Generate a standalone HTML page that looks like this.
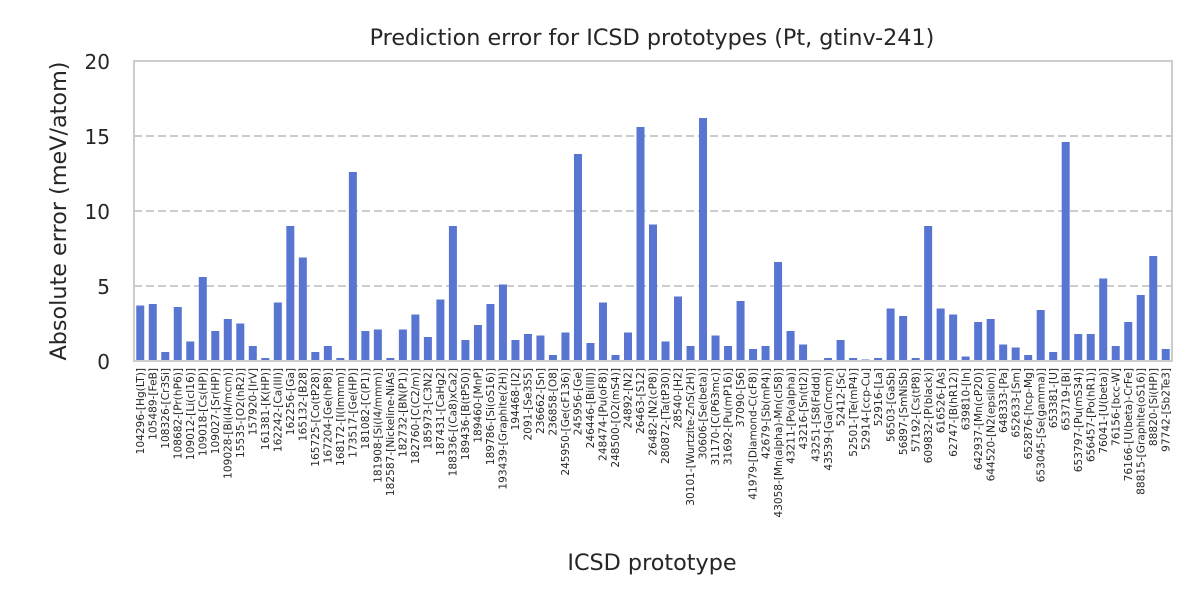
<!DOCTYPE html>
<html><head><meta charset="utf-8"><style>
html,body{margin:0;padding:0;background:#fff;}
svg{display:block;font-family:"DejaVu Sans","Liberation Sans",sans-serif;}
</style></head><body>
<svg id="chart" width="1200" height="600" viewBox="0 0 1200 600">
<text x="652" y="45" font-size="22.3" text-anchor="middle" fill="#262626">Prediction error for ICSD prototypes (Pt, gtinv-241)</text>
<text transform="translate(66,211) rotate(-90)" font-size="22.3" text-anchor="middle" fill="#262626">Absolute error (meV/atom)</text>
<text x="652" y="570" font-size="22.3" text-anchor="middle" fill="#262626">ICSD prototype</text>
<g id="grid"></g>
<g id="bars"></g>
<g id="yticks"></g>
<g id="xticks"></g>
<rect x="134" y="61" width="1038" height="300" fill="none" stroke="#cccccc" stroke-width="2"/>
</svg>
<script>
const categories = ["104296-[Hg(LT)]","105489-[FeB]","108326-[Cr3Si]","108682-[Pr(hP6)]","109012-[Li(cI16)]","109018-[Cs(HP)]","109027-[Sr(HP)]","109028-[Bi(I4/mcm)]","15535-[O2(hR2)]","157920-[IrV]","161381-[K(HP)]","162242-[Ca(III)]","162256-[Ga]","165132-[B28]","165725-[Co(tP28)]","167204-[Ge(hP8)]","168172-[I(Immm)]","173517-[Ge(HP)]","181082-[C(P1)]","181908-[Si(I4/mmm)]","182587-[Nickeline-NiAs]","182732-[BN(P1)]","182760-[C(C2/m)]","185973-[C3N2]","187431-[CaHg2]","188336-[(Ca8)xCa2]","189436-[B(tP50)]","189460-[MnP]","189786-[Si(oS16)]","193439-[Graphite(2H)]","194468-[I2]","2091-[Se3S5]","236662-[Sn]","236858-[O8]","245950-[Ge(cF136)]","245956-[Ge]","246446-[Bi(III)]","248474-[Pu(oF8)]","248500-[O2(mS4)]","24892-[N2]","26463-[S12]","26482-[N2(cP8)]","280872-[Ta(tP30)]","28540-[H2]","30101-[Wurtzite-ZnS(2H)]","30606-[Se(beta)]","31170-[C(P63mc)]","31692-[Pu(mP16)]","37090-[S6]","41979-[Diamond-C(cF8)]","42679-[Sb(mP4)]","43058-[Mn(alpha)-Mn(cI58)]","43211-[Po(alpha)]","43216-[Sn(tI2)]","43251-[S8(Fddd)]","43539-[Ga(Cmcm)]","52412-[Sc]","52501-[Te(mP4)]","52914-[ccp-Cu]","52916-[La]","56503-[GaSb]","56897-[SmNiSb]","57192-[Cs(tP8)]","609832-[P(black)]","616526-[As]","62747-[B(hR12)]","639810-[In]","642937-[Mn(cP20)]","644520-[N2(epsilon)]","648333-[Pa]","652633-[Sm]","652876-[hcp-Mg]","653045-[Se(gamma)]","653381-[U]","653719-[Bi]","653797-[Pu(mS34)]","656457-[Po(hR1)]","76041-[U(beta)]","76156-[bcc-W]","76166-[U(beta)-CrFe]","88815-[Graphite(oS16)]","88820-[Si(HP)]","97742-[Sb2Te3]"];
const values = [3.7,3.8,0.6,3.6,1.3,5.6,2.0,2.8,2.5,1.0,0.2,3.9,9.0,6.9,0.6,1.0,0.2,12.6,2.0,2.1,0.2,2.1,3.1,1.6,4.1,9.0,1.4,2.4,3.8,5.1,1.4,1.8,1.7,0.4,1.9,13.8,1.2,3.9,0.4,1.9,15.6,9.1,1.3,4.3,1.0,16.2,1.7,1.0,4.0,0.8,1.0,6.6,2.0,1.1,0.0,0.2,1.4,0.2,0.1,0.2,3.5,3.0,0.2,9.0,3.5,3.1,0.3,2.6,2.8,1.1,0.9,0.4,3.4,0.6,14.6,1.8,1.8,5.5,1.0,2.6,4.4,7.0,0.8];
const yTicks = [0,5,10,15,20];
const NS = "http://www.w3.org/2000/svg";
const X0 = 134, X1 = 1172, Y0 = 361, Y1 = 61, YMAX = 20;
const step = (X1 - X0) / categories.length;
function xScale(i){ return X0 + step * (i + 0.5); }
function yScale(v){ return Y0 - (v / YMAX) * (Y0 - Y1); }
function mk(tag, attrs){ const e = document.createElementNS(NS, tag); for (const k in attrs) e.setAttribute(k, attrs[k]); return e; }
const grid = document.getElementById('grid'), yt = document.getElementById('yticks'), bars = document.getElementById('bars'), xt = document.getElementById('xticks');
yTicks.forEach(t => {
  const y = yScale(t);
  if (t > 0 && t < YMAX) {
    const l = mk('line', {x1: X0, x2: X1, y1: y, y2: y, stroke: '#cccccc', 'stroke-width': 2, 'stroke-dasharray': '8,4'});
    
    
    grid.appendChild(l);
  }
  const tx = mk('text', {x: 110, y: y + 8, 'font-size': 20, 'text-anchor': 'end', fill: '#262626'});
  tx.textContent = t;
  
  
  yt.appendChild(tx);
});
const bw = 8;
values.forEach((v, i) => {
  const cx = xScale(i);
  const y = yScale(v);
  const r = mk('rect', {x: cx - bw / 2, y: y, width: bw, height: Math.max(0, Y0 - y), fill: '#5875d2'});
  
  
  bars.appendChild(r);
  const tx = mk('text', {transform: 'translate(' + (cx + 3.7) + ',368) rotate(-90)', 'font-size': 10.6, 'text-anchor': 'end', fill: '#262626'});
  tx.textContent = categories[i];
  
  
  xt.appendChild(tx);
});
</script>
</body></html>
